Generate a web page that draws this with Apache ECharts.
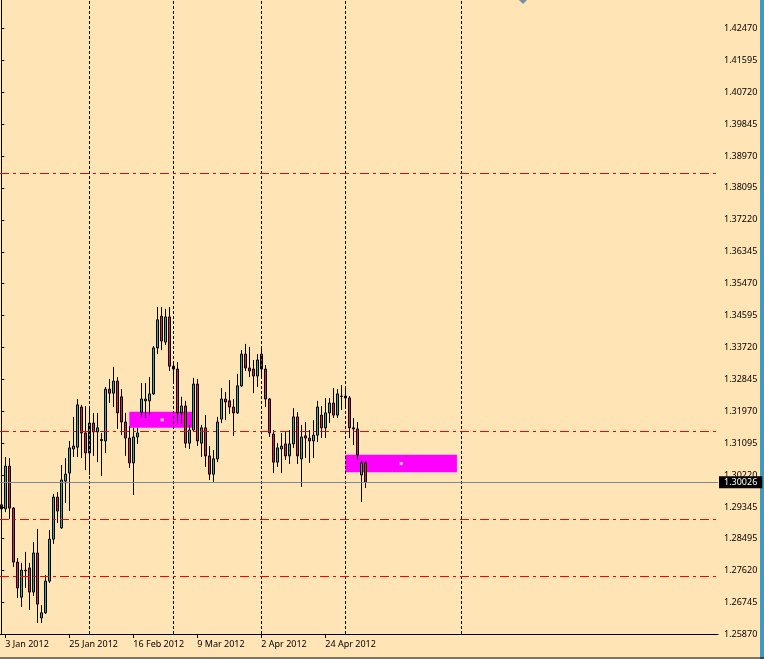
<!DOCTYPE html>
<html>
<head>
<meta charset="utf-8">
<script src="https://cdn.jsdelivr.net/npm/echarts@6/dist/echarts.min.js"></script>
<style>
html,body{margin:0;padding:0;background:#FFE4B5;}
#c{width:764px;height:659px;}
</style>
</head>
<body>
<div id="c"></div>
<script>
// Trading days (one per bar)
const dates = [
"2 Jan 2012","3 Jan 2012","4 Jan 2012","5 Jan 2012","6 Jan 2012","9 Jan 2012","10 Jan 2012","11 Jan 2012","12 Jan 2012","13 Jan 2012",
"16 Jan 2012","17 Jan 2012","18 Jan 2012","19 Jan 2012","20 Jan 2012","23 Jan 2012","24 Jan 2012","25 Jan 2012","26 Jan 2012","27 Jan 2012",
"30 Jan 2012","31 Jan 2012","1 Feb 2012","2 Feb 2012","3 Feb 2012","6 Feb 2012","7 Feb 2012","8 Feb 2012","9 Feb 2012","10 Feb 2012",
"13 Feb 2012","14 Feb 2012","15 Feb 2012","16 Feb 2012","17 Feb 2012","20 Feb 2012","21 Feb 2012","22 Feb 2012","23 Feb 2012","24 Feb 2012",
"27 Feb 2012","28 Feb 2012","29 Feb 2012","1 Mar 2012","2 Mar 2012","5 Mar 2012","6 Mar 2012","7 Mar 2012","8 Mar 2012","9 Mar 2012",
"12 Mar 2012","13 Mar 2012","14 Mar 2012","15 Mar 2012","16 Mar 2012","19 Mar 2012","20 Mar 2012","21 Mar 2012","22 Mar 2012","23 Mar 2012",
"26 Mar 2012","27 Mar 2012","28 Mar 2012","29 Mar 2012","30 Mar 2012","2 Apr 2012","3 Apr 2012","4 Apr 2012","5 Apr 2012","6 Apr 2012",
"9 Apr 2012","10 Apr 2012","11 Apr 2012","12 Apr 2012","13 Apr 2012","16 Apr 2012","17 Apr 2012","18 Apr 2012","19 Apr 2012","20 Apr 2012",
"23 Apr 2012","24 Apr 2012","25 Apr 2012","26 Apr 2012","27 Apr 2012","30 Apr 2012","1 May 2012","2 May 2012","3 May 2012","4 May 2012",
"7 May 2012","8 May 2012"
];
const openP = [
1.2941,1.2930,1.3047,1.2932,1.2784,1.2688,1.2762,1.2768,1.2702,1.2809,
1.2631,1.2645,1.2732,1.2847,1.2962,1.2878,1.3006,1.3028,1.3094,1.3099,
1.3209,1.3138,1.3083,1.3165,1.3141,1.3120,1.3116,1.3258,1.3247,1.3280,
1.3237,1.3168,1.3124,1.3056,1.3127,1.3195,1.3226,1.3226,1.3245,1.3371,
1.3458,1.3387,1.3456,1.3321,1.3313,1.3193,1.3212,1.3110,1.3146,1.3272,
1.3110,1.3152,1.3075,1.3025,1.3067,1.3176,1.3231,1.3226,1.3209,1.3193,
1.3267,1.3354,1.3316,1.3313,1.3294,1.3354,1.3313,1.3231,1.3135,1.3058,
1.3094,1.3108,1.3075,1.3108,1.3182,1.3067,1.3130,1.3124,1.3116,1.3132,
1.3187,1.3152,1.3193,1.3220,1.3187,1.3239,1.3239,1.3234,1.3152,1.3149,
1.3023,1.3056
];
const highP = [
1.2965,1.3072,1.3069,1.2935,1.2795,1.2782,1.2812,1.2782,1.2839,1.2875,
1.2666,1.2749,1.2872,1.2971,1.2976,1.3050,1.3069,1.3116,1.3182,1.3231,
1.3215,1.3212,1.3212,1.3193,1.3193,1.3138,1.3264,1.3286,1.3319,1.3291,
1.3258,1.3193,1.3157,1.3152,1.3152,1.3275,1.3275,1.3291,1.3376,1.3483,
1.3483,1.3478,1.3483,1.3332,1.3332,1.3237,1.3226,1.3160,1.3289,1.3286,
1.3160,1.3187,1.3102,1.3091,1.3182,1.3261,1.3250,1.3283,1.3231,1.3300,
1.3365,1.3382,1.3374,1.3338,1.3354,1.3376,1.3324,1.3234,1.3146,1.3110,
1.3138,1.3143,1.3146,1.3206,1.3195,1.3160,1.3168,1.3146,1.3173,1.3226,
1.3212,1.3234,1.3234,1.3261,1.3258,1.3269,1.3264,1.3239,1.3179,1.3168,
1.3064,1.3061
];
const lowP = [
1.2910,1.2921,1.2902,1.2771,1.2686,1.2661,1.2713,1.2653,1.2691,1.2617,
1.2617,1.2642,1.2727,1.2834,1.2891,1.2875,1.2946,1.2924,1.3072,1.3072,
1.3069,1.3036,1.3023,1.3075,1.3058,1.3020,1.3083,1.3220,1.3209,1.3149,
1.3132,1.3075,1.3042,1.2968,1.3108,1.3182,1.3179,1.3187,1.3242,1.3354,
1.3365,1.3379,1.3308,1.3275,1.3165,1.3165,1.3097,1.3094,1.3143,1.3102,
1.3072,1.3045,1.3009,1.3001,1.3058,1.3165,1.3173,1.3190,1.3130,1.3190,
1.3264,1.3308,1.3291,1.3247,1.3264,1.3286,1.3209,1.3127,1.3028,1.3045,
1.3028,1.3064,1.3053,1.3097,1.3053,1.2990,1.3069,1.3056,1.3069,1.3113,
1.3124,1.3124,1.3165,1.3179,1.3179,1.3201,1.3204,1.3124,1.3105,1.3064,
1.2949,1.2987
];
const closeP = [
1.2930,1.3047,1.2932,1.2784,1.2713,1.2762,1.2760,1.2702,1.2809,1.2669,
1.2645,1.2732,1.2847,1.2962,1.2924,1.3009,1.3025,1.3097,1.3102,1.3215,
1.3138,1.3083,1.3165,1.3141,1.3152,1.3117,1.3258,1.3247,1.3280,1.3193,
1.3168,1.3124,1.3056,1.3127,1.3138,1.3231,1.3231,1.3245,1.3371,1.3448,
1.3390,1.3456,1.3321,1.3313,1.3193,1.3212,1.3110,1.3146,1.3272,1.3116,
1.3152,1.3075,1.3025,1.3067,1.3168,1.3231,1.3223,1.3209,1.3193,1.3267,
1.3354,1.3316,1.3308,1.3294,1.3338,1.3313,1.3231,1.3138,1.3058,1.3097,
1.3102,1.3075,1.3108,1.3182,1.3075,1.3127,1.3124,1.3116,1.3132,1.3209,
1.3152,1.3193,1.3220,1.3187,1.3245,1.3238,1.3234,1.3152,1.3149,1.3078,
1.3056,1.30026
];
// Price scale tick labels (right axis)
const priceTicks = [1.42470,1.41595,1.40720,1.39845,1.38970,1.38095,1.37220,1.36345,1.35470,1.34595,
1.33720,1.32845,1.31970,1.31095,1.30220,1.29345,1.28495,1.27620,1.26745,1.25870];
// Bars that carry a date label
const dateTickIdx = [1,17,33,49,65,81];
// Month separators (bar index)
const separatorIdx = [0,22,43,65,86,115];
// Horizontal levels
const levelPrices = [1.3850,1.3143,1.2902,1.2746];
const lastPrice = 1.30026;
// Rectangles (bar index / price)
const boxStart = [32,86];
const boxEnd = [48.4,113.9];
const boxTop = [1.3196,1.3078];
const boxBottom = [1.3152,1.3030];

const FONT = 'Noto Sans';
const candles = dates.map((d,i)=>[i, openP[i], closeP[i], lowP[i], highP[i]]);
const boxCenters = boxStart.map((s,k)=>[(s+boxEnd[k])/2,(boxTop[k]+boxBottom[k])/2]);

const chart = echarts.init(document.getElementById('c'), null, {renderer:'canvas'});
chart.setOption({
  backgroundColor:'#FFE4B5',
  animation:false,
  grid:{left:0,right:46,top:0,bottom:25,show:false},
  xAxis:{
    type:'value', min:-0.33, max:179.17,
    axisLine:{show:true,onZero:false,lineStyle:{color:'#000',width:1}},
    axisTick:{show:true,length:4,lineStyle:{color:'#000'},customValues:dateTickIdx},
    axisLabel:{show:true,customValues:dateTickIdx,formatter:v=>dates[v],align:'left',
      color:'#000',fontFamily:FONT,fontSize:9,margin:6},
    splitLine:{show:false}
  },
  yAxis:{
    type:'value', position:'right', min:1.25870, max:1.43245, scale:true,
    axisLine:{show:true,lineStyle:{color:'#000',width:1}},
    axisTick:{show:true,length:3,lineStyle:{color:'#000'},customValues:priceTicks},
    axisLabel:{show:true,customValues:priceTicks,formatter:v=>v.toFixed(5),
      color:'#000',fontFamily:FONT,fontSize:9,margin:6},
    splitLine:{show:false}
  },
  series:[
    {
      type:'line', data:[], z:1, silent:true,
      markArea:{silent:true,precision:5,itemStyle:{color:'#FF00FF',opacity:1},
        data:boxStart.map((s,k)=>[{coord:[s,boxTop[k]]},{coord:[boxEnd[k],boxBottom[k]]}])},
      markLine:{silent:true,symbol:'none',animation:false,precision:5,
        data:[
          ...separatorIdx.map(v=>({xAxis:v,lineStyle:{color:'#000',width:1,type:[3,2]},label:{show:false}})),
          ...levelPrices.map(v=>({yAxis:v,lineStyle:{color:'#FF0000',width:1,type:[9,4,3,4]},label:{show:false}})),
          {yAxis:lastPrice,lineStyle:{color:'#778899',width:1,type:'solid'},
            label:{show:true,position:'end',distance:1,formatter:p=>Number(p.value).toFixed(5),
              backgroundColor:'#000',color:'#fff',fontFamily:FONT,fontSize:9,padding:[2,5,1,5]}}
        ]}
    },
    {
      type:'candlestick', z:3, data:candles, encode:{x:0,y:[1,2,3,4]},
      barWidth:3,
      itemStyle:{color:'#3CB44A',color0:'#E8211E',borderColor:'#000',borderColor0:'#000',borderWidth:1}
    },
    {
      type:'scatter', z:4, data:boxCenters, symbol:'rect', symbolSize:3,
      itemStyle:{color:'#fff'}, silent:true
    }
  ],
  graphic:[
    {type:'rect',shape:{x:760,y:0,width:4,height:659},style:{fill:'#3A9BC8'},silent:true},
    {type:'line',shape:{x1:0,y1:658,x2:764,y2:658},style:{stroke:'#000',lineWidth:1},silent:true},
    {type:'polygon',shape:{points:[[519,0],[527,0],[523,4]]},style:{fill:'#7A8EA8'},silent:true}
  ]
});
</script>
</body>
</html>
